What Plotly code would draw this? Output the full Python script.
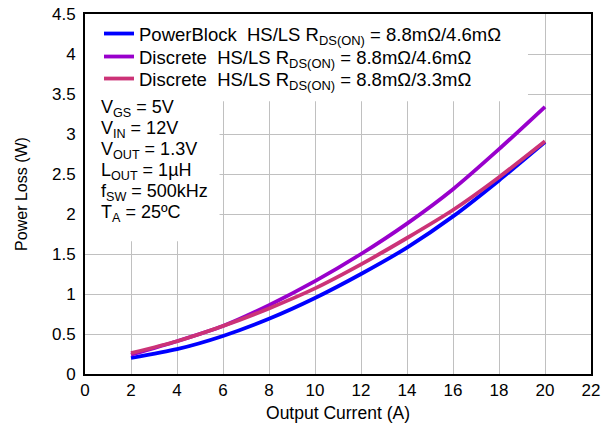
import plotly.graph_objects as go

current = [2, 4, 6, 8, 10, 12, 14, 16, 18, 20]
powerblock = [0.20, 0.31, 0.475, 0.69, 0.95, 1.25, 1.58, 1.97, 2.42, 2.90]
discrete_46 = [0.24, 0.41, 0.60, 0.86, 1.16, 1.50, 1.88, 2.31, 2.81, 3.34]
discrete_33 = [0.26, 0.41, 0.60, 0.82, 1.07, 1.37, 1.70, 2.05, 2.46, 2.91]

names = [
    "PowerBlock  HS/LS R<sub>DS(ON)</sub> = 8.8mΩ/4.6mΩ",
    "Discrete  HS/LS R<sub>DS(ON)</sub> = 8.8mΩ/4.6mΩ",
    "Discrete  HS/LS R<sub>DS(ON)</sub> = 8.8mΩ/3.3mΩ",
]
colors = ["#0000FF", "#9900CC", "#CC3377"]
series = [powerblock, discrete_46, discrete_33]

cond_lines = [
    "V<sub>GS</sub> = 5V",
    "V<sub>IN</sub> = 12V",
    "V<sub>OUT</sub> = 1.3V",
    "L<sub>OUT</sub> = 1µH",
    "f<sub>SW</sub> = 500kHz",
    "T<sub>A</sub> = 25ºC",
]

FONT = "Liberation Sans, Arial, sans-serif"
L, T, W, H = 85, 14, 506, 360

def px(x):
    return (x - L) / W

def py(y):
    return (T + H - y) / H

fig = go.Figure()
legend_ids = ["legend", "legend2", "legend3"]
for name, ys, c, lg in zip(names, series, colors, legend_ids):
    fig.add_trace(go.Scatter(x=current, y=ys, mode="lines", name=name, legend=lg,
                             line=dict(color=c, width=3.8, shape="spline", smoothing=0.6)))

# white boxes hiding the grid behind legend and condition text
fig.add_shape(type="rect", xref="x", yref="y", x0=0, x1=19.26, y0=3.41, y1=4.5,
              fillcolor="white", line_width=0, layer="between")
fig.add_shape(type="rect", xref="x", yref="y", x0=0, x1=5.85, y0=1.66, y1=3.42,
              fillcolor="white", line_width=0, layer="between")

for i, t in enumerate(cond_lines):
    yy = 109 + i * 20.8
    fig.add_annotation(text=t, xref="paper", yref="paper", x=px(99), y=py(yy),
                       xanchor="left", yanchor="middle", showarrow=False,
                       font=dict(family=FONT, size=18, color="black"))

leg_common = dict(xanchor="left", yanchor="middle", bgcolor="rgba(0,0,0,0)",
                  borderwidth=0, font=dict(family=FONT, size=18.5, color="black"))
legend_y = [34, 57, 79]

fig.update_layout(
    width=608, height=429,
    margin=dict(l=L, r=608 - L - W, t=T, b=429 - T - H),
    paper_bgcolor="white", plot_bgcolor="white",
    font=dict(family=FONT, size=17, color="black"),
    showlegend=True,
    legend=dict(x=px(99), y=py(legend_y[0]), **leg_common),
    legend2=dict(x=px(99), y=py(legend_y[1]), **leg_common),
    legend3=dict(x=px(99), y=py(legend_y[2]), **leg_common),
    xaxis=dict(range=[0, 22], tickvals=list(range(0, 23, 2)), showgrid=True,
               gridcolor="#C0C0C0", gridwidth=1, showline=True, linecolor="black",
               linewidth=2, mirror=True, ticks="", zeroline=False, automargin=False,
               title=dict(text="Output Current (A)", font=dict(size=17.5), standoff=7),
               tickfont=dict(size=17)),
    yaxis=dict(range=[0, 4.5], tickvals=[0, 0.5, 1, 1.5, 2, 2.5, 3, 3.5, 4, 4.5],
               ticktext=["0", "0.5", "1", "1.5", "2", "2.5", "3", "3.5", "4", "4.5"],
               showgrid=True, gridcolor="#C0C0C0", gridwidth=1, showline=True,
               linecolor="black", linewidth=2, mirror=True, ticks="", zeroline=False,
               automargin=False, ticklabelstandoff=4,
               title=dict(text="Power Loss (W)", font=dict(size=16), standoff=20),
               tickfont=dict(size=17)),
)

fig.write_html("out.html", config={"displayModeBar": False},
               post_script="document.body.style.margin='0';")
